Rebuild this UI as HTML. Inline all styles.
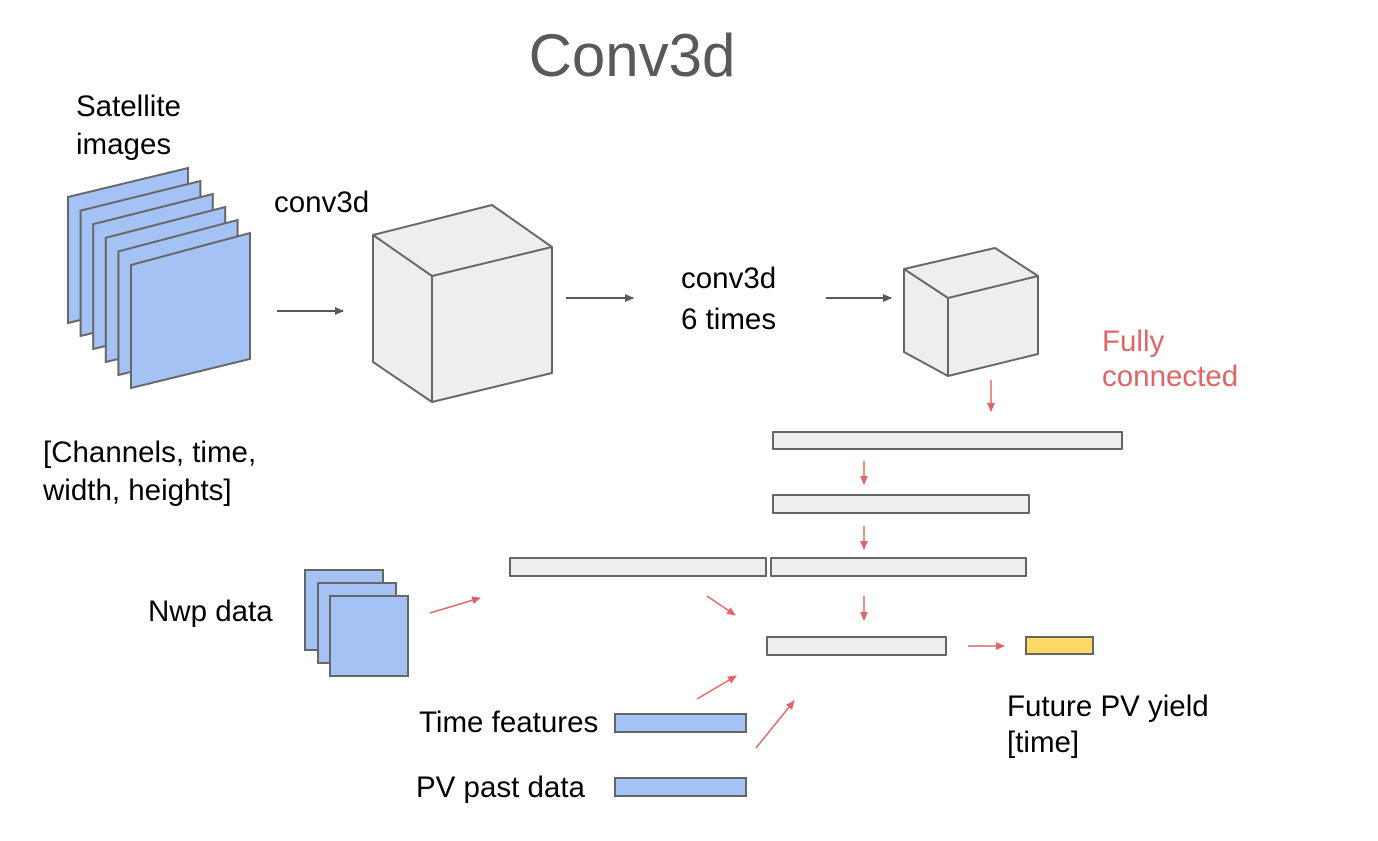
<!DOCTYPE html>
<html><head><meta charset="utf-8"><style>
body{margin:0;background:#fff;}
svg text{font-family:"Liberation Sans",Arial,sans-serif;}
</style></head><body>
<svg width="1378" height="836" viewBox="0 0 1378 836" xmlns="http://www.w3.org/2000/svg">
<defs>
<marker id="ag" markerWidth="10" markerHeight="10" refX="8" refY="5" orient="auto" markerUnits="userSpaceOnUse"><path d="M0,1 L9,5 L0,9 z" fill="#595959"/></marker>
<marker id="ar" markerWidth="10" markerHeight="10" refX="8" refY="5" orient="auto" markerUnits="userSpaceOnUse"><path d="M0,1 L9,5 L0,9 z" fill="#e06666"/></marker>
</defs>
<text x="632" y="76" font-size="60" fill="#595959" text-anchor="middle">Conv3d</text>
<g font-size="29.5" fill="#000">
<text x="76" y="116">Satellite</text><text x="76" y="154">images</text>
<text x="274" y="212">conv3d</text>
<text x="681" y="288">conv3d</text><text x="681" y="329">6 times</text>
<text x="43" y="462">[Channels, time,</text><text x="43" y="500">width, heights]</text>
<text x="148" y="621">Nwp data</text>
<text x="419" y="732">Time features</text>
<text x="416" y="797">PV past data</text>
<text x="1007" y="716">Future PV yield</text><text x="1007" y="752">[time]</text>
</g>
<g font-size="29.5" fill="#e06666"><text x="1102" y="351">Fully</text><text x="1102" y="386">connected</text></g>
<g fill="#a4c2f4" stroke="#666" stroke-width="2">
<polygon points="68,197 188,168 188,294 68,323"/>
<polygon points="80.6,210.6 200.4,181 200.4,307 80.6,336"/>
<polygon points="93.2,224.2 212.8,194 212.8,320 93.2,349"/>
<polygon points="105.8,237.8 225.2,207 225.2,333 105.8,362"/>
<polygon points="118.4,251.4 237.6,220 237.6,346 118.4,375"/>
<polygon points="131,265 250,233 250,359 131,388"/>
<rect x="305" y="570" width="78" height="80"/>
<rect x="318" y="583" width="78" height="80"/>
<rect x="330" y="596" width="78" height="80"/>
<rect x="615" y="714" width="131" height="18"/>
<rect x="615" y="778" width="131" height="18"/>
</g>
<g fill="#eeeeee" stroke="#666" stroke-width="2" stroke-linejoin="round">
<polygon points="373,235 492,205 552,247 552,373 432,402 373,362"/>
<polyline points="373,235 432,276 552,247" fill="none"/><line x1="432" y1="276" x2="432" y2="402"/>
<polygon points="904,269 995,248 1038,276 1038,354 948,376 904,352"/>
<polyline points="904,269 948,298 1038,276" fill="none"/><line x1="948" y1="298" x2="948" y2="376"/>
<rect x="773" y="432" width="349" height="17"/>
<rect x="773" y="495" width="256" height="18"/>
<rect x="510" y="558" width="256" height="18"/>
<rect x="771" y="558" width="255" height="18"/>
<rect x="767" y="637" width="179" height="18"/>
</g>
<rect x="1026" y="637" width="67" height="17" fill="#ffd966" stroke="#666" stroke-width="2"/>
<g stroke="#595959" stroke-width="2" marker-end="url(#ag)">
<line x1="277" y1="311" x2="343" y2="311"/>
<line x1="566" y1="298" x2="633" y2="298"/>
<line x1="826" y1="298" x2="891" y2="298"/>
</g>
<g stroke="#e06666" stroke-width="1.5" marker-end="url(#ar)">
<line x1="991" y1="380" x2="991" y2="411"/>
<line x1="864" y1="461" x2="864" y2="484"/>
<line x1="864" y1="526" x2="864" y2="549"/>
<line x1="864" y1="596" x2="864" y2="620"/>
<line x1="430" y1="613" x2="480" y2="598"/>
<line x1="707" y1="596" x2="735" y2="615"/>
<line x1="697" y1="699" x2="736" y2="676"/>
<line x1="756" y1="748" x2="794" y2="701"/>
<line x1="968" y1="646" x2="1004" y2="646"/>
</g>
</svg>
</body></html>
